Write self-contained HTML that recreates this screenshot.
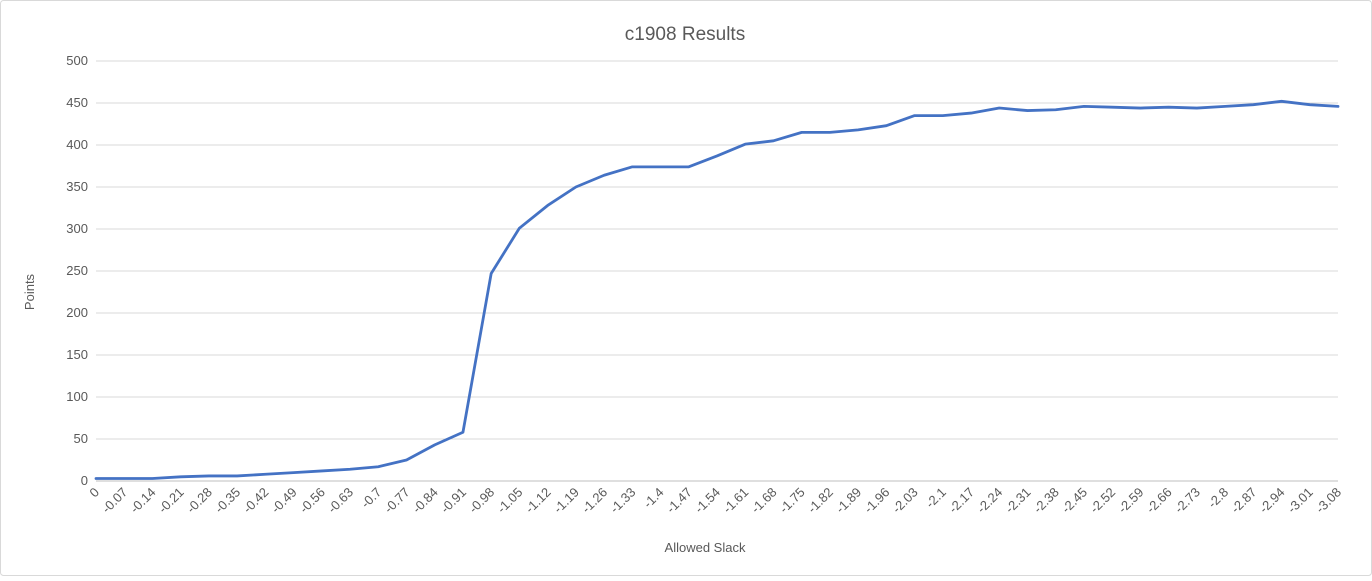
<!DOCTYPE html>
<html><head><meta charset="utf-8"><style>
body{margin:0;background:#fff;font-family:"Liberation Sans",sans-serif;}
svg text{font-family:"Liberation Sans",sans-serif;fill:#595959;}
</style></head><body>
<svg id="chart" width="1372" height="576" xmlns="http://www.w3.org/2000/svg">
<rect x="0.5" y="0.5" width="1371" height="575" fill="#fff" stroke="#d9d9d9" rx="3"/>
<text x="685" y="40" font-size="19" text-anchor="middle">c1908 Results</text>
<text x="34" y="292" font-size="13" text-anchor="middle" transform="rotate(-90 34 292)">Points</text>
<text x="705" y="552" font-size="13" text-anchor="middle">Allowed Slack</text>
<g id="grid"></g><g id="ylabels"></g><g id="xlabels"></g><g id="series"></g>
</svg>
<script>
const categories=["0","-0.07","-0.14","-0.21","-0.28","-0.35","-0.42","-0.49","-0.56","-0.63","-0.7","-0.77","-0.84","-0.91","-0.98","-1.05","-1.12","-1.19","-1.26","-1.33","-1.4","-1.47","-1.54","-1.61","-1.68","-1.75","-1.82","-1.89","-1.96","-2.03","-2.1","-2.17","-2.24","-2.31","-2.38","-2.45","-2.52","-2.59","-2.66","-2.73","-2.8","-2.87","-2.94","-3.01","-3.08"];
const points=[3,3,3,5,6,6,8,10,12,14,17,25,43,58,247,301,328,350,364,374,374,374,387,401,405,415,415,418,423,435,435,438,444,441,442,446,445,444,445,444,446,448,452,448,446];
const yTicks=[0,50,100,150,200,250,300,350,400,450,500];
const NS="http://www.w3.org/2000/svg";
const x0=96,x1=1338,yb=481,yt=61,ymax=500;
const xs=i=>x0+i*(x1-x0)/(categories.length-1);
const ys=v=>yb-v/ymax*(yb-yt);
function mk(t,a,p){const e=document.createElementNS(NS,t);for(const k in a)e.setAttribute(k,a[k]);p.appendChild(e);return e;}
const grid=document.getElementById('grid'),yl=document.getElementById('ylabels'),xl=document.getElementById('xlabels'),se=document.getElementById('series');
yTicks.forEach(v=>{
  const l=mk('line',{x1:x0,x2:x1,y1:ys(v),y2:ys(v),stroke:v===0?'#bfbfbf':'#d9d9d9','stroke-width':1},grid);
  
  
  const t=mk('text',{x:x0-8,y:ys(v)+4,'font-size':13,'text-anchor':'end'},yl);
  t.textContent=v;
  
  
});
categories.forEach((c,i)=>{
  const x=xs(i),y=yb+8;
  const t=mk('text',{x:x+4,y:y+4,'font-size':13,'text-anchor':'end',transform:`rotate(-45 ${x+4} ${y+4})`},xl);
  t.textContent=c;
  
  
});
const p=mk('polyline',{points:points.map((v,i)=>xs(i)+','+ys(v)).join(' '),fill:'none',stroke:'#4472c4','stroke-width':2.8,'stroke-linejoin':'round','stroke-linecap':'round'},se);


</script>
</body></html>
